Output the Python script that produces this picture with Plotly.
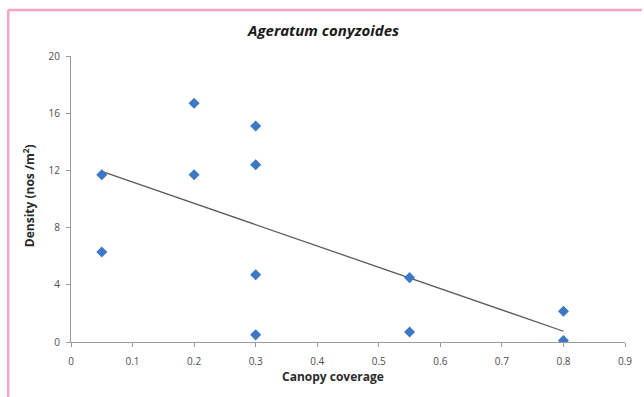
import numpy as np
import plotly.graph_objects as go

canopy = [0.05, 0.05, 0.2, 0.2, 0.3, 0.3, 0.3, 0.3, 0.55, 0.55, 0.8, 0.8]
density = [11.7, 6.3, 16.7, 11.7, 15.1, 12.4, 4.7, 0.5, 4.5, 0.7, 2.15, 0.1]
x_ticks = [0, 0.1, 0.2, 0.3, 0.4, 0.5, 0.6, 0.7, 0.8, 0.9]
y_ticks = [0, 4, 8, 12, 16, 20]
title_text = "Ageratum conyzoides"
x_title = "Canopy coverage"
y_title = "Density (nos /m<sup>2</sup>)"

slope, intercept = np.polyfit(canopy, density, 1)
tx = [min(canopy), max(canopy)]
ty = [slope * v + intercept for v in tx]

W, H = 644, 397
L, R, T, B = 71, 17, 56, 55

fig = go.Figure()
fig.add_trace(go.Scatter(x=tx, y=ty, mode="lines",
                         line=dict(color="#5b5b5b", width=1.3),
                         showlegend=False, hoverinfo="skip"))
fig.add_trace(go.Scatter(x=canopy, y=density, mode="markers",
                         marker=dict(symbol="diamond", size=8.5, color="#3d78c4",
                                     line=dict(width=0)),
                         showlegend=False))

font_fam = "'Open Sans', sans-serif"
axis_common = dict(showgrid=False, zeroline=False, showline=True,
                   linecolor="#9a9a9a", linewidth=1.2, ticks="outside",
                   ticklen=4, tickcolor="#9a9a9a", tickwidth=1,
                   tickfont=dict(family=font_fam, size=10, color="#4d4d4d"))

fig.update_layout(
    width=W, height=H,
    margin=dict(l=L, r=R, t=T, b=B),
    paper_bgcolor="white", plot_bgcolor="white",
    xaxis=dict(range=[0, 0.9], tickvals=x_ticks, ticklabelstandoff=6,
               ticktext=[("%g" % v) for v in x_ticks], **axis_common),
    yaxis=dict(range=[0, 20], tickvals=y_ticks, ticklabelstandoff=4,
               **axis_common),
    shapes=[
        dict(type="line", xref="paper", yref="paper",
             x0=(8 - L) / (W - L - R), x1=(W - L) / (W - L - R),
             y0=(H - 10 - B) / (H - T - B), y1=(H - 10 - B) / (H - T - B),
             line=dict(color="#f5a3c9", width=2.5)),
        dict(type="line", xref="paper", yref="paper",
             x0=(8 - L) / (W - L - R), x1=(8 - L) / (W - L - R),
             y0=(0 - B) / (H - T - B), y1=(H - 10 - B) / (H - T - B),
             line=dict(color="#f5a3c9", width=2.5)),
    ],
    annotations=[
        dict(text="<b><i>" + title_text + "</i></b>", xref="paper", yref="paper",
             x=(324 - L) / (W - L - R), y=(H - 30 - B) / (H - T - B),
             showarrow=False, xanchor="center", yanchor="middle",
             font=dict(family=font_fam, size=15, color="#1a1a1a")),
        dict(text="<b>" + x_title + "</b>", xref="paper", yref="paper",
             x=(334 - L) / (W - L - R), y=(H - 376 - B) / (H - T - B),
             showarrow=False, xanchor="center", yanchor="middle",
             font=dict(family=font_fam, size=12, color="#2a2a2a")),
        dict(text="<b>" + y_title + "</b>", xref="paper", yref="paper",
             x=(29 - L) / (W - L - R), y=(H - 196 - B) / (H - T - B),
             showarrow=False, xanchor="center", yanchor="middle", textangle=-90,
             font=dict(family=font_fam, size=12, color="#2a2a2a")),
    ],
)

fig.write_html("out.html")
